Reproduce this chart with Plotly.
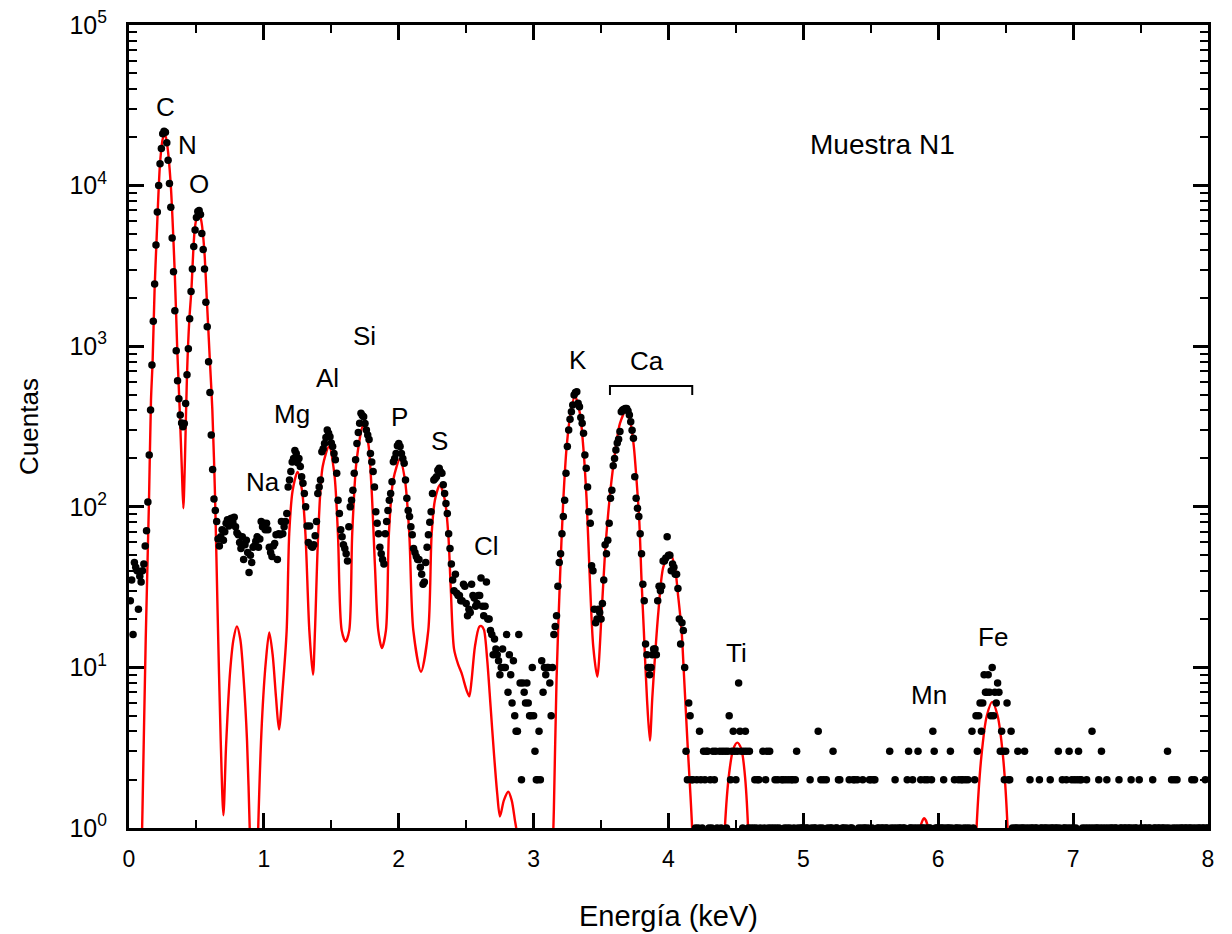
import math
import plotly.graph_objects as go

# ---------------- data ----------------
energy_start_kev = 0.0
channel_width_kev = 0.01

# counts per 0.01 keV channel, one row per 0.1 keV (0 = not drawn on log axis)
counts = [
    0, 26, 35, 16, 45, 42, 40, 23, 37, 34,                      # 0.0
    40, 44, 57, 71, 107, 210, 400, 765, 1430, 2440,             # 0.1
    4270, 6850, 10000, 13700, 17000, 21000, 21800, 21500, 18500, 14400,  # 0.2
    10300, 7330, 4720, 2910, 1660, 938, 610, 470, 373, 333,     # 0.3
    315, 330, 440, 665, 965, 1480, 2190, 3030, 4170, 5300,      # 0.4
    6330, 6900, 7000, 6600, 5040, 4000, 3020, 1880, 1320, 800,  # 0.5
    515, 280, 171, 112, 95, 81, 63, 57, 65, 72,                 # 0.6
    62, 70, 79, 83, 76, 84, 85, 80, 86, 75,                     # 0.7
    69, 67, 60, 55, 65, 47, 58, 62, 52, 39,                     # 0.8
    50, 45, 56, 57, 61, 65, 56, 63, 81, 75,                     # 0.9
    79, 72, 79, 72, 56, 52, 49, 57, 59, 67,                     # 1.0
    47, 68, 67, 81, 68, 75, 81, 91, 133, 147,                   # 1.1
    166, 190, 200, 224, 215, 188, 200, 178, 154, 140,           # 1.2
    121, 100, 76, 60, 76, 57, 56, 58, 66, 81,                   # 1.3
    121, 133, 147, 220, 230, 248, 270, 301, 287, 273,           # 1.4
    250, 237, 215, 196, 162, 110, 91, 72, 65, 58,               # 1.5
    55, 51, 46, 75, 100, 110, 127, 162, 196, 248,               # 1.6
    290, 331, 382, 370, 364, 330, 301, 280, 262, 215,           # 1.7
    190, 166, 133, 93, 79, 68, 56, 51, 47, 44,                  # 1.8
    68, 81, 95, 110, 121, 143, 191, 200, 215, 240,              # 1.9
    248, 237, 215, 200, 187, 147, 113, 95, 87, 75,              # 2.0
    67, 55, 52, 49, 47, 47, 42, 38, 33, 34,                     # 2.1
    45, 56, 67, 80, 93, 121, 147, 150, 154, 169,                # 2.2
    174, 165, 162, 137, 121, 105, 91, 68, 55, 44,               # 2.3
    35, 30, 38, 29, 28, 28, 26, 26, 33, 32,                     # 2.4
    25, 21, 23, 22, 33, 28, 27, 24, 25, 28,                     # 2.5
    28, 36, 24, 21, 24, 34, 20, 20, 17, 16,                     # 2.6
    12, 15, 13, 12, 11, 9, 10, 13, 10, 10,                      # 2.7
    16, 7, 12, 9, 6, 11, 5, 4, 4, 16,                           # 2.8
    8, 2, 8, 7, 6, 8, 6, 5, 5, 10,                              # 2.9
    5, 3, 2, 2, 4, 2, 11, 7, 10, 9,                             # 3.0
    10, 10, 8, 5, 10, 16, 18, 21, 32, 45,                       # 3.1
    51, 68, 87, 110, 162, 237, 301, 351, 391, 430,              # 3.2
    497, 514, 521, 441, 420, 360, 331, 287, 210, 174,           # 3.3
    133, 93, 79, 43, 40, 23, 19, 20, 23, 22,                    # 3.4
    20, 25, 35, 58, 51, 62, 79, 113, 127, 180,                  # 3.5
    200, 226, 250, 263, 294, 391, 400, 405, 410, 410,           # 3.6
    395, 373, 339, 300, 267, 154, 113, 98, 87, 68,              # 3.7
    51, 33, 26, 14, 12, 10, 9, 10, 12, 13,                      # 3.8
    13, 12, 26, 32, 30, 32, 46, 46, 48, 65,                     # 3.9
    50, 50, 40, 44, 42, 38, 38, 31, 20, 14,                     # 4.0
    19, 17, 10, 3, 2, 6, 5, 2, 2, 0,                            # 4.1
    1, 2, 1, 4, 2, 1, 3, 2, 3, 3,                               # 4.2
    1, 2, 1, 3, 2, 3, 1, 0, 3, 1,                               # 4.3
    3, 0, 3, 1, 3, 5, 2, 3, 4, 3,                               # 4.4
    2, 3, 8, 4, 3, 1, 3, 4, 3, 1,                               # 4.5
    3, 1, 0, 1, 2, 1, 2, 2, 1, 0,                               # 4.6
    3, 1, 2, 3, 1, 3, 1, 0, 1, 2,                               # 4.7
    1, 2, 1, 0, 2, 2, 1, 2, 1, 2,                               # 4.8
    1, 2, 2, 1, 2, 3, 1, 0, 1, 1,                               # 4.9
    1, 0, 1, 1, 0, 2, 1, 0, 1, 1,                               # 5.0
    0, 4, 1, 2, 1, 2, 0, 2, 1, 0,                               # 5.1
    1, 1, 3, 0, 1, 1, 2, 2, 0, 1,                               # 5.2
    1, 0, 1, 0, 2, 1, 1, 2, 2, 0,                               # 5.3
    2, 1, 0, 1, 2, 1, 1, 0, 1, 2,                               # 5.4
    2, 1, 2, 2, 0, 1, 1, 0, 1, 1,                               # 5.5
    0, 1, 1, 0, 3, 1, 0, 1, 2, 1,                               # 5.6
    0, 1, 1, 0, 1, 1, 0, 2, 3, 1,                               # 5.7
    1, 2, 1, 0, 1, 3, 1, 2, 1, 1,                               # 5.8
    2, 1, 2, 1, 1, 2, 4, 3, 1, 1,                               # 5.9
    1, 0, 1, 1, 2, 1, 0, 1, 1, 3,                               # 6.0
    1, 0, 2, 1, 1, 2, 1, 2, 2, 1,                               # 6.1
    2, 1, 2, 1, 0, 4, 1, 2, 5, 3,                               # 6.2
    5, 6, 4, 6, 9, 7, 7, 9, 7, 5,                               # 6.3
    10, 5, 7, 6, 8, 7, 3, 4, 3, 2,                              # 6.4
    3, 6, 2, 2, 4, 1, 0, 1, 1, 3,                               # 6.5
    1, 0, 1, 1, 3, 1, 0, 1, 2, 1,                               # 6.6
    1, 0, 1, 1, 0, 2, 1, 1, 0, 1,                               # 6.7
    1, 0, 1, 2, 1, 1, 0, 1, 1, 3,                               # 6.8
    1, 0, 2, 1, 1, 2, 1, 3, 1, 2,                               # 6.9
    1, 2, 1, 2, 3, 2, 2, 1, 0, 1,                               # 7.0
    2, 1, 0, 1, 4, 1, 0, 1, 1, 2,                               # 7.1
    1, 3, 1, 0, 1, 2, 1, 0, 1, 1,                               # 7.2
    0, 1, 1, 0, 2, 1, 1, 0, 1, 1,                               # 7.3
    0, 1, 1, 2, 1, 0, 1, 1, 0, 2,                               # 7.4
    1, 1, 0, 1, 1, 0, 1, 1, 0, 2,                               # 7.5
    1, 1, 0, 1, 1, 0, 1, 1, 0, 1,                               # 7.6
    3, 1, 0, 2, 1, 2, 1, 2, 1, 0,                               # 7.7
    1, 1, 0, 1, 1, 0, 1, 1, 2, 1,                               # 7.8
    2, 1, 0, 1, 1, 0, 1, 1, 2, 1,                               # 7.9
    1,                                                          # 8.0
]

# fitted spectrum (red line), read at key points; None separates the pieces
fit_energy = [
    0.085, 0.10, 0.124, 0.148, 0.163, 0.175, 0.19, 0.203, 0.23, 0.25, 0.267,
    0.285, 0.309, 0.339, 0.358, 0.375, 0.392, 0.403, 0.415, 0.43, 0.447,
    0.462, 0.487, 0.505, 0.52, 0.538, 0.558, 0.578, 0.60, 0.618, 0.638,
    0.657, 0.68, 0.70, 0.72, 0.75, 0.775, 0.80, 0.825, 0.85, 0.875, 0.895, 0.91,
    None,
    0.945, 0.958, 0.985, 1.015, 1.04, 1.065, 1.09, 1.112, 1.14, 1.169, 1.188,
    1.213, 1.25, 1.283, 1.308, 1.337, 1.364, 1.379, 1.403, 1.436, 1.483,
    1.522, 1.549, 1.577, 1.606, 1.633, 1.655, 1.688, 1.737, 1.774, 1.799,
    1.824, 1.848, 1.875, 1.905, 1.927, 1.959, 2.009, 2.046, 2.078, 2.108,
    2.165, 2.219, 2.244, 2.268, 2.305, 2.342, 2.367, 2.385, 2.41, 2.441,
    2.466, 2.503, 2.523, 2.54, 2.565, 2.597, 2.614, 2.632, 2.656, 2.681,
    2.706, 2.73, 2.75, 2.78, 2.812, 2.837, 2.861, 2.878, 2.89,
    None,
    3.13, 3.15, 3.17, 3.195, 3.22, 3.245, 3.274, 3.306, 3.343, 3.368, 3.393,
    3.417, 3.442, 3.472, 3.504, 3.529, 3.553, 3.578, 3.61, 3.64, 3.684,
    3.719, 3.743, 3.763, 3.783, 3.80, 3.817, 3.84, 3.862, 3.88, 3.90,
    3.924, 3.961, 4.01, 4.047, 4.072, 4.097, 4.114, 4.14, 4.175, 4.19,
    None,
    4.40, 4.418, 4.45, 4.48, 4.51, 4.54, 4.565, 4.59, 4.605,
    None,
    5.85, 5.865, 5.896, 5.925, 5.94,
    None,
    6.265, 6.284, 6.32, 6.36, 6.40, 6.44, 6.48, 6.514, 6.53,
]
fit_counts = [
    0.3, 1.3, 15, 107, 460, 800, 2300, 4300, 13700, 19500, 21000,
    17500, 10300, 2900, 940, 420, 170, 98, 200, 665, 1450,
    2190, 5300, 6500, 6800, 5900, 4000, 1880, 800, 400, 116,
    22, 3.5, 1.2, 3.3, 9.5, 15, 18, 15, 8.5, 3.5, 1.0, 0.3,
    None,
    0.3, 1.0, 4.5, 11, 16.5, 12, 6.5, 4.1, 7.5, 17, 68,
    126, 165, 126, 68, 17, 9.0, 17, 68, 178, 237,
    162, 68, 17, 14.5, 17, 68, 196, 323, 248, 127,
    42, 17, 13.2, 17, 68, 147, 198, 147, 68, 17,
    9.4, 17, 68, 110, 137, 110, 68, 32, 13, 10.4,
    9.2, 7.2, 6.6, 8.3, 13.5, 17.9, 18.1, 17.1, 11.1, 5.7,
    2.9, 1.64, 1.18, 1.49, 1.68, 1.49, 1.12, 0.9, 0.3,
    None,
    0.3, 1.3, 8.4, 35, 110, 237, 382, 490, 382, 237, 110,
    35, 13.5, 8.75, 21.7, 51, 91, 147, 237, 331, 397,
    331, 237, 147, 83, 35, 17, 6.5, 3.5, 6.5, 11.7,
    21.7, 42, 52, 42, 27.6, 17, 9.2, 3.5, 1.0, 0.3,
    None,
    0.3, 1.0, 2.2, 3.1, 3.4, 3.1, 2.2, 1.0, 0.3,
    None,
    0.3, 1.0, 1.15, 1.0, 0.3,
    None,
    0.3, 1.0, 2.8, 5.0, 6.1, 5.0, 2.8, 1.0, 0.3,
]

# element labels: text, energy (keV), counts at label centre
element_labels = ["C", "N", "O", "Na", "Mg", "Al", "Si", "P", "S", "Cl",
                  "K", "Ca", "Ti", "Mn", "Fe"]
label_energy = [0.267, 0.437, 0.519, 0.993, 1.208, 1.468, 1.749, 2.009, 2.305,
                2.654, 3.328, 3.84, 4.507, 5.93, 6.405]
label_counts = [30900, 17900, 10200, 143, 378, 631, 1156, 362, 257, 57,
                820, 809, 12.3, 6.7, 15.5]

# bracket over the Ca lines
ca_bracket_energy = [3.566, 3.566, 4.176, 4.176]
ca_bracket_counts = [497, 565, 565, 497]

sample_title = "Muestra N1"
sample_energy = 5.589
sample_counts = 17900

y_tick_vals = [1, 10, 100, 1000, 10000, 100000]
y_tick_text = ["10<sup>0</sup>", "10<sup>1</sup>", "10<sup>2</sup>",
               "10<sup>3</sup>", "10<sup>4</sup>", "10<sup>5</sup>"]

# ---------------- figure ----------------
FONT = "Liberation Sans, Arial, sans-serif"

dots_y = [c if c > 0 else None for c in counts]
minor_y = [m * 10 ** p for p in range(0, 5) for m in range(2, 10)]

fig = go.Figure()
fig.add_trace(go.Scatter(
    x=fit_energy, y=fit_counts, mode="lines",
    line=dict(color="#ff0000", width=2.4, shape="spline", smoothing=0.8),
    connectgaps=False, showlegend=False, hoverinfo="skip"))
fig.add_trace(go.Scatter(
    x0=energy_start_kev, dx=channel_width_kev, y=dots_y, mode="markers",
    marker=dict(color="black", size=7.5, line=dict(width=0)),
    showlegend=False))
fig.add_trace(go.Scatter(
    x=ca_bracket_energy, y=ca_bracket_counts, mode="lines",
    line=dict(color="black", width=2), showlegend=False, hoverinfo="skip"))

for t, e, c in zip(element_labels, label_energy, label_counts):
    fig.add_annotation(x=e, y=math.log10(c), text=t, showarrow=False,
                       xanchor="center", yanchor="middle",
                       font=dict(family=FONT, size=26, color="black"))
fig.add_annotation(x=sample_energy, y=math.log10(sample_counts),
                   text=sample_title, showarrow=False,
                   xanchor="center", yanchor="middle",
                   font=dict(family=FONT, size=28, color="black"))

axis_common = dict(showline=True, linewidth=3, linecolor="black",
                   mirror="ticks", ticks="inside", ticklen=15, tickwidth=2.5,
                   tickcolor="black", showgrid=False, zeroline=False,
                   automargin=False, ticklabeloverflow="allow")

fig.update_xaxes(range=[0, 8], tickmode="linear", tick0=0, dtick=1,
                 minor=dict(dtick=0.5, ticks="inside", ticklen=8,
                            tickwidth=2, tickcolor="black", showgrid=False),
                 tickfont=dict(family=FONT, size=23, color="black"),
                 ticklabelstandoff=8,
                 title=dict(text="Energía (keV)", standoff=36,
                            font=dict(family=FONT, size=29, color="black")),
                 **axis_common)
fig.update_yaxes(type="log", range=[0, 5], tickmode="array",
                 tickvals=y_tick_vals, ticktext=y_tick_text,
                 minor=dict(tickmode="array", tickvals=minor_y, ticks="inside",
                            ticklen=8, tickwidth=2, tickcolor="black",
                            showgrid=False),
                 tickfont=dict(family=FONT, size=25, color="black"),
                 ticklabelstandoff=14,
                 title=dict(text="Cuentas", standoff=24,
                            font=dict(family=FONT, size=26, color="black")),
                 **axis_common)

# the page body adds an 8 px offset; the figure is sized so that the plot
# area lands where it is in the reference and nothing overflows the window
fig.update_layout(width=1224, height=926, autosize=False,
                  margin=dict(l=121, r=24, t=17, b=106),
                  paper_bgcolor="white", plot_bgcolor="white",
                  font=dict(family=FONT, color="black"))

fig.write_html("out.html")
